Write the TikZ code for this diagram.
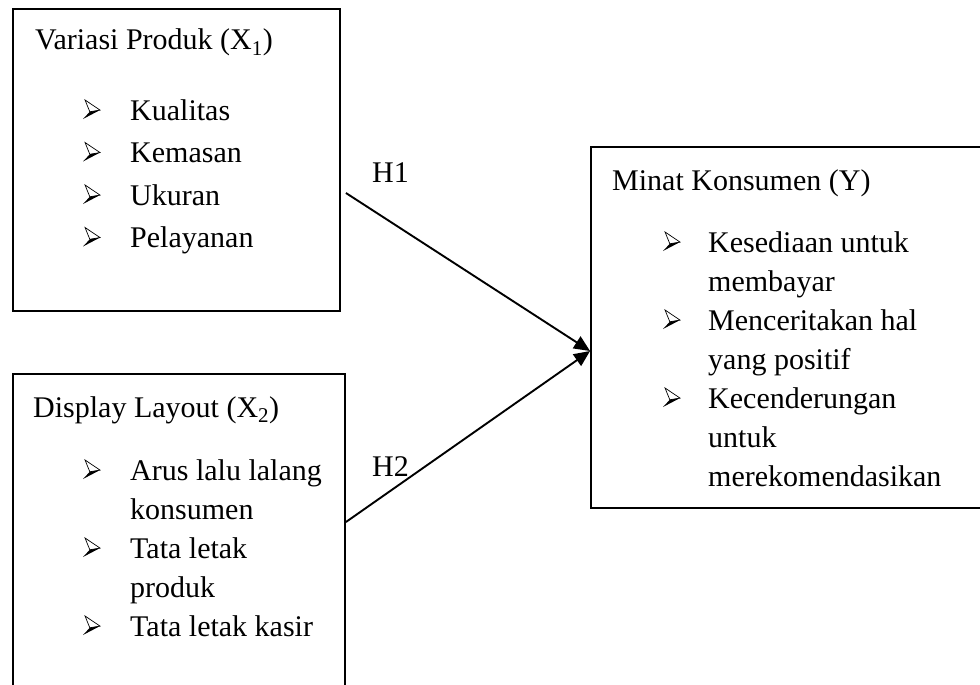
\documentclass[tikz,border=0pt]{standalone}
\usepackage{fontspec}
\setmainfont{Liberation Serif}
\usetikzlibrary{arrows.meta,calc}
\tikzset{
  box/.style={draw, line width=1.9pt, rectangle, inner sep=0pt},
  txt/.style={anchor=base west, inner sep=0pt, font=\fontsize{30}{36}\selectfont},
  conn/.style={line width=1.9pt, -{Triangle[length=16pt,width=14pt]}},
  bul/.pic={
    \fill[black] (0.4,0.62) -- (1,0.53) -- (0,1) -- cycle;
    \draw[line width=0.7pt, line join=miter] (0.12,0) -- (1,0.53) -- (0.4,0.62) -- cycle;
  }
}
\begin{document}
\begin{tikzpicture}[x=1pt,y=-1pt]
\useasboundingbox (0,0) rectangle (980,685);
\fill[white] (0,0) rectangle (980,685);
% boxes
\node[box, minimum width=327pt, minimum height=302pt] (b1) at (176.5,160) {};
\node[box, minimum width=332pt, minimum height=340pt] (b2) at (179,544) {};
\node[box, minimum width=420pt, minimum height=361pt] (b3) at (801,327.5) {};
% box 1 text
\node[txt] (t1) at (35,50) {Variasi Produk (X\textsubscript{1})};
\node[txt] (a1) at (130,120) {Kualitas};
\node[txt] (a2) at (130,162.5) {Kemasan};
\node[txt] (a3) at (130,205) {Ukuran};
\node[txt] (a4) at (130,247.5) {Pelayanan};
\foreach \y in {120,162.5,205,247.5} \pic[xscale=17,yscale=19] at (83,\y-20) {bul};
% box 2 text
\node[txt] (t2) at (33,417) {Display Layout (X\textsubscript{2})};
\node[txt] (c1) at (130,480) {Arus lalu lalang};
\node[txt] (c2) at (130,519) {konsumen};
\node[txt] (c3) at (130,558) {Tata letak};
\node[txt] (c4) at (130,597) {produk};
\node[txt] (c5) at (130,636) {Tata letak kasir};
\foreach \y in {480,558,636} \pic[xscale=17,yscale=19] at (83,\y-20) {bul};
% box 3 text
\node[txt] (t3) at (612,190) {Minat Konsumen (Y)};
\node[txt] (d1) at (708,252) {Kesediaan untuk};
\node[txt] (d2) at (708,291) {membayar};
\node[txt] (d3) at (708,330) {Menceritakan hal};
\node[txt] (d4) at (708,369) {yang positif};
\node[txt] (d5) at (708,408) {Kecenderungan};
\node[txt] (d6) at (708,447) {untuk};
\node[txt] (d7) at (708,486) {merekomendasikan};
\foreach \y in {252,330,408} \pic[xscale=17,yscale=19] at (663,\y-20) {bul};
% connectors
\coordinate (s1) at ($(b1.east)+(5,33)$);
\coordinate (s2) at ($(b2.east)+(0,-22)$);
\coordinate (tg) at ($(b3.west)+(0,23.5)$);
\draw[conn] (s1) -- (tg);
\draw[conn] (s2) -- (tg);
\node[txt] (h1) at (372,182) {H1};
\node[txt] (h2) at (372,476) {H2};
\end{tikzpicture}
\end{document}
